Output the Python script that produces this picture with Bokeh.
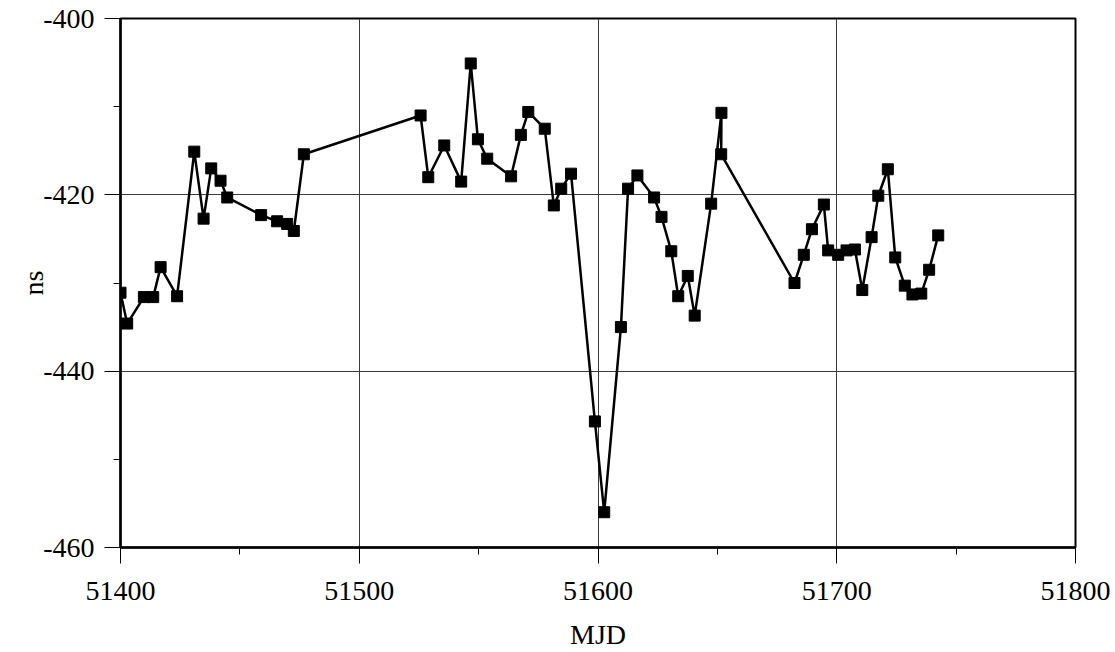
from bokeh.plotting import figure
from bokeh.models import FixedTicker, Range1d, ColumnDataSource, CustomJSTickFormatter
from bokeh.embed import file_html
from bokeh.resources import INLINE

mjd = [51400.0, 51402.8, 51409.8, 51413.7, 51416.8, 51423.7, 51430.9, 51434.8, 51438.0, 51441.9,
       51444.7, 51458.9, 51465.6, 51469.8, 51472.6, 51476.8, 51525.7, 51528.9, 51535.6, 51542.7,
       51546.7, 51549.7, 51553.6, 51563.6, 51567.7, 51570.8, 51577.7, 51581.5, 51584.6, 51588.7,
       51598.7, 51602.6, 51609.6, 51612.6, 51616.5, 51623.5, 51626.6, 51630.7, 51633.6, 51637.6,
       51640.5, 51647.4, 51651.7, 51651.6, 51682.3, 51686.2, 51689.6, 51694.6, 51696.4, 51700.6,
       51704.1, 51707.6, 51710.7, 51714.6, 51717.4, 51721.4, 51724.5, 51728.5, 51731.7, 51735.4,
       51738.7, 51742.5]
ns = [-431.1, -434.6, -431.6, -431.6, -428.2, -431.5, -415.1, -422.7, -417.0, -418.4,
      -420.3, -422.3, -423.0, -423.3, -424.1, -415.4, -411.0, -418.0, -414.4, -418.5,
      -405.1, -413.7, -415.9, -417.9, -413.2, -410.6, -412.5, -421.2, -419.3, -417.6,
      -445.7, -456.0, -435.0, -419.3, -417.8, -420.3, -422.5, -426.4, -431.5, -429.2,
      -433.7, -421.0, -410.7, -415.4, -430.0, -426.8, -423.9, -421.1, -426.3, -426.8,
      -426.3, -426.2, -430.8, -424.8, -420.1, -417.1, -427.1, -430.3, -431.3, -431.2,
      -428.5, -424.6]

x_ticks = [51400, 51500, 51600, 51700, 51800]
x_minor = [51450, 51550, 51650, 51750]
y_ticks = [-460, -440, -420, -400]
y_minor = [-450, -430, -410]
x_title = "MJD"
y_title = "ns"

FONT = "Liberation Serif"

p = figure(width=1112, height=652, output_backend="svg", toolbar_location=None,
           x_range=Range1d(51400, 51800), y_range=Range1d(-460, -400),
           min_border_left=120, min_border_right=37, min_border_top=18, min_border_bottom=104)

p.outline_line_color = "black"
p.outline_line_width = 2
p.background_fill_color = "white"
p.border_fill_color = "white"

p.xaxis.ticker = FixedTicker(ticks=x_ticks, minor_ticks=x_minor)
p.yaxis.ticker = FixedTicker(ticks=y_ticks, minor_ticks=y_minor)
p.xaxis.formatter = CustomJSTickFormatter(code="return tick.toFixed(0);")
p.yaxis.formatter = CustomJSTickFormatter(code="return tick.toFixed(0);")
p.xgrid.ticker = FixedTicker(ticks=[51500, 51600, 51700])
p.ygrid.ticker = FixedTicker(ticks=[-440, -420])
for g in (p.xgrid, p.ygrid):
    g.grid_line_color = "#3a3a3a"
    g.grid_line_width = 1

for ax in (p.xaxis, p.yaxis):
    ax.axis_line_width = 2.5
    ax.axis_line_color = "black"
    ax.major_tick_line_color = "black"
    ax.minor_tick_line_color = "black"
    ax.major_tick_line_width = 1
    ax.minor_tick_line_width = 1
    ax.major_tick_in = 0
    ax.major_tick_out = 16
    ax.minor_tick_in = 0
    ax.minor_tick_out = 7
    ax.major_label_text_font = FONT
    ax.major_label_text_font_size = "28px"
    ax.major_label_text_color = "black"
    ax.axis_label_text_font = FONT
    ax.axis_label_text_font_size = "28px"
    ax.axis_label_text_font_style = "normal"
    ax.axis_label_text_color = "black"

p.xaxis.axis_label = x_title
p.yaxis.axis_label = y_title
p.xaxis.major_label_standoff = 18
p.xaxis.axis_label_standoff = 16
p.yaxis.major_label_standoff = 10
p.yaxis.axis_label_standoff = -9

src = ColumnDataSource(dict(x=mjd, y=ns))
p.line("x", "y", source=src, line_color="black", line_width=2.5)
p.scatter("x", "y", source=src, marker="square", size=11, fill_color="black", line_color="black")

open("out.html", "w").write(file_html(p, INLINE))
